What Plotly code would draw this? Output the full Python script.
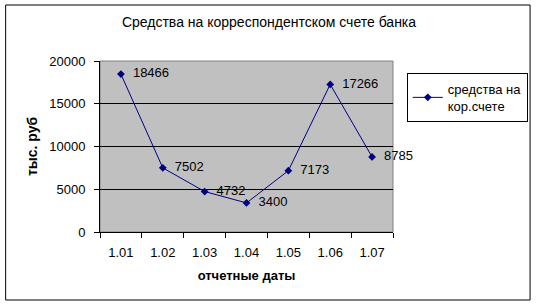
import plotly.graph_objects as go

categories = ["1.01", "1.02", "1.03", "1.04", "1.05", "1.06", "1.07"]
values = [18466, 7502, 4732, 3400, 7173, 17266, 8785]
series_name = "средства на<br>кор.счете"
title = "Средства на корреспондентском счете банка"
y_title = "тыс. руб"
x_title = "отчетные даты"
y_ticks = [0, 5000, 10000, 15000, 20000]

FONT = "Liberation Sans, Arial, sans-serif"

fig = go.Figure()
fig.add_trace(go.Scatter(
    x=categories, y=values, name=series_name,
    mode="lines+markers+text",
    text=["  " + str(v) for v in values],
    textposition="middle right",
    textfont=dict(family=FONT, size=13, color="black"),
    line=dict(color="#000080", width=1),
    marker=dict(symbol="diamond", size=6, color="#000080"),
    cliponaxis=False,
))

fig.update_layout(
    width=540, height=307,
    margin=dict(l=100, r=145, t=61, b=75),
    paper_bgcolor="white",
    plot_bgcolor="#C0C0C0",
    font=dict(family=FONT, size=13, color="black"),
    title=dict(text=title, x=269 / 540, xref="container", xanchor="center",
               y=1 - 22 / 307, yanchor="middle",
               font=dict(family=FONT, size=14, color="black")),
    showlegend=True,
    legend=dict(x=1.047, y=0.93, xanchor="left", yanchor="top",
                bordercolor="black", borderwidth=1, bgcolor="white",
                font=dict(family=FONT, size=13, color="black"),
                itemwidth=30, tracegroupgap=0),
    shapes=[
        dict(type="rect", xref="paper", yref="paper",
             x0=-95 / 295, x1=433 / 295, y0=-(300 - 232) / 171, y1=1 + (61 - 5) / 171,
             line=dict(color="black", width=1), layer="below"),
        dict(type="rect", xref="paper", yref="paper", x0=0, x1=1, y0=0, y1=1,
             line=dict(color="#808080", width=1), layer="below"),
    ],
)

fig.update_xaxes(
    type="category", tickson="boundaries", ticks="outside", ticklen=5,
    tickcolor="black", showline=True, linecolor="black", linewidth=1,
    showgrid=False, tickfont=dict(family=FONT, size=13),
    ticklabelstandoff=8,
    title=dict(text="<b>" + x_title + "</b>", font=dict(family=FONT, size=13), standoff=12),
    range=[-0.5, len(categories) - 0.5],
)
fig.update_yaxes(
    range=[0, 20000], tickvals=y_ticks, ticktext=[str(v) for v in y_ticks],
    ticks="outside", ticklen=5,
    tickcolor="black", showline=True, linecolor="black", linewidth=1,
    showgrid=True, gridcolor="black", gridwidth=1, zeroline=False,
    tickfont=dict(family=FONT, size=13), ticklabelstandoff=6,
    title=dict(text="<b>" + y_title + "</b>", font=dict(family=FONT, size=14), standoff=8),
)

fig.write_html("out.html")
